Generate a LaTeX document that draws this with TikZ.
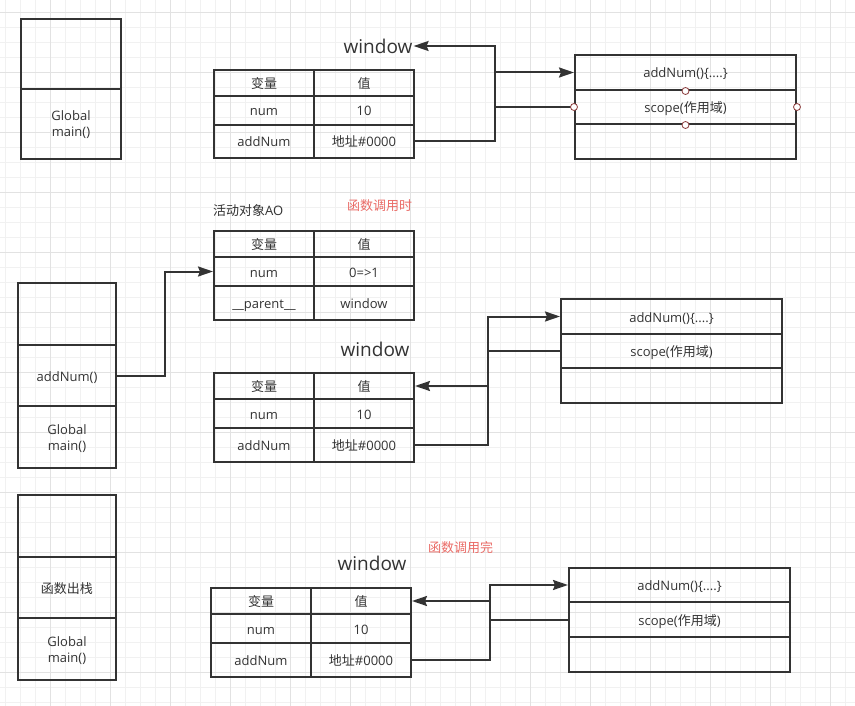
\documentclass[tikz,border=0pt]{standalone}
\usepackage{fontspec}
\setmainfont{Open Sans}
\newfontfamily\cjk{Noto Sans CJK SC}
\usetikzlibrary{arrows.meta}
\definecolor{lc}{RGB}{51,51,51}
\definecolor{tc}{RGB}{51,51,51}
\definecolor{redt}{RGB}{234,107,102}
\definecolor{gminor}{RGB}{241,241,241}
\definecolor{gmajor}{RGB}{226,226,226}
\definecolor{ptc}{RGB}{140,60,60}
\tikzset{
  cell/.style={draw=lc, line width=2pt, inner sep=0pt, text=tc,
    text height=12pt, text depth=1pt,
    font=\fontsize{13}{16}\selectfont},
  cell2/.style={draw=lc, line width=2pt, inner sep=0pt, text=tc, align=center,
    text height=28pt, text depth=2pt,
    font=\fontsize{13}{16}\selectfont},
  wlabel/.style={inner sep=1pt, text=tc, font=\fontsize{19}{22}\selectfont},
  note/.style={inner sep=0pt, anchor=west, font=\fontsize{13}{16}\selectfont},
  conn/.style={draw=lc, line width=2pt},
  arr/.style={conn, -{Stealth[length=15pt,width=10pt,inset=2pt]}},
  pt/.style={circle, draw=ptc, fill=white, line width=0.8pt, minimum size=7pt, inner sep=0pt}
}
\begin{document}
\begin{tikzpicture}[x=1pt,y=-1pt]
\useasboundingbox (0,0) rectangle (855,706);
\fill[white] (0,0) rectangle (855,706);
% grid
\foreach \gx in {5,20,...,855} {\draw[gminor, line width=0.8pt] (\gx,0) -- (\gx,706);}
\foreach \gy in {12,27,...,706} {\draw[gminor, line width=0.8pt] (0,\gy) -- (855,\gy);}
\foreach \gx in {50,110,...,855} {\draw[gmajor, line width=0.8pt] (\gx,0) -- (\gx,706);}
\foreach \gy in {12,72,...,706} {\draw[gmajor, line width=0.8pt] (0,\gy) -- (855,\gy);}

% ===== top section =====
\node[cell, minimum width=100pt, minimum height=70pt] (s1a) at (71,54) {};
\node[cell2, minimum width=100pt, minimum height=70pt] (s1b) at (71,124) {Global\\main()};

\node[wlabel] (win1) at (378,46) {window};
\node[cell, minimum width=100pt, minimum height=26pt] (t1c11) at (264,83) {{\cjk 变量}};
\node[cell, minimum width=100pt, minimum height=26pt] (t1c12) at (364,83) {{\cjk 值}};
\node[cell, minimum width=100pt, minimum height=29pt] (t1c21) at (264,110.5) {num};
\node[cell, minimum width=100pt, minimum height=29pt] (t1c22) at (364,110.5) {10};
\node[cell, minimum width=100pt, minimum height=33pt] (t1c31) at (264,141.5) {addNum};
\node[cell, minimum width=100pt, minimum height=33pt] (t1c32) at (364,141.5) {{\cjk 地址}\#0000};

\node[cell, minimum width=221pt, minimum height=35pt] (r1a) at (685.5,72.5) {addNum()\{....\}};
\node[cell, minimum width=221pt, minimum height=34pt] (r1b) at (685.5,107) {scope({\cjk 作用域})};
\node[cell, minimum width=221pt, minimum height=35pt] (r1c) at (685.5,141.5) {};

\coordinate (k1) at (495,0);
\draw[arr] (t1c32.east) -| (win1.east -| k1) -- (win1.east);
\draw[arr] (k1 |- r1a.west) -- (r1a.west);
\draw[conn] (r1b.west) -- (k1 |- r1b.west);

\node[pt] (p1) at (r1a.south) {};
\node[pt] (p2) at (r1b.west) {};
\node[pt] (p3) at (r1b.east) {};
\node[pt] (p4) at (r1b.south) {};

% ===== middle section =====
\node[note, text=tc] (aol) at (213,211) {{\cjk 活动对象}AO};
\node[note, text=redt] (red1) at (347,206) {\cjk 函数调用时};

\node[cell, minimum width=100pt, minimum height=26pt] (ao11) at (264,244) {{\cjk 变量}};
\node[cell, minimum width=100pt, minimum height=26pt] (ao12) at (364,244) {{\cjk 值}};
\node[cell, minimum width=100pt, minimum height=29pt] (ao21) at (264,271.5) {num};
\node[cell, minimum width=100pt, minimum height=29pt] (ao22) at (364,271.5) {0=>1};
\node[cell, minimum width=100pt, minimum height=34pt] (ao31) at (264,303) {\_\_parent\_\_};
\node[cell, minimum width=100pt, minimum height=34pt] (ao32) at (364,303) {window};

\node[cell, minimum width=98pt, minimum height=62pt] (s2a) at (67,314) {};
\node[cell, minimum width=98pt, minimum height=61pt] (s2b) at (67,375.5) {addNum()};
\node[cell2, minimum width=98pt, minimum height=62pt] (s2c) at (67,437) {Global\\main()};

\coordinate (k4) at (165,0);
\draw[arr] (s2b.east) -| (k4 |- ao21.west) -- (ao21.west);

\node[wlabel] (win2) at (375,349) {window};
\node[cell, minimum width=100pt, minimum height=26pt] (w2c11) at (264,386) {{\cjk 变量}};
\node[cell, minimum width=100pt, minimum height=26pt] (w2c12) at (364,386) {{\cjk 值}};
\node[cell, minimum width=100pt, minimum height=29pt] (w2c21) at (264,413.5) {num};
\node[cell, minimum width=100pt, minimum height=29pt] (w2c22) at (364,413.5) {10};
\node[cell, minimum width=100pt, minimum height=34pt] (w2c31) at (264,445) {addNum};
\node[cell, minimum width=100pt, minimum height=34pt] (w2c32) at (364,445) {{\cjk 地址}\#0000};

\node[cell, minimum width=221pt, minimum height=35pt] (r2a) at (671.5,316.5) {addNum()\{....\}};
\node[cell, minimum width=221pt, minimum height=34pt] (r2b) at (671.5,351) {scope({\cjk 作用域})};
\node[cell, minimum width=221pt, minimum height=35pt] (r2c) at (671.5,385.5) {};

\coordinate (k2) at (488,0);
\draw[arr] (w2c32.east) -| (k2 |- r2a.west) -- (r2a.west);
\draw[conn] (r2b.west) -- (k2 |- r2b.west);
\draw[arr] (k2 |- w2c12.east) -- (w2c12.east);

% ===== bottom section =====
\node[cell, minimum width=98pt, minimum height=62pt] (s3a) at (67,526) {};
\node[cell, minimum width=98pt, minimum height=61pt] (s3b) at (67,587.5) {{\cjk 函数出栈}};
\node[cell2, minimum width=98pt, minimum height=62pt] (s3c) at (67,649) {Global\\main()};

\node[note, text=redt] (red2) at (428,548) {\cjk 函数调用完};
\node[wlabel] (win3) at (372,563) {window};
\node[cell, minimum width=100pt, minimum height=26pt] (w3c11) at (261,601) {{\cjk 变量}};
\node[cell, minimum width=100pt, minimum height=26pt] (w3c12) at (361,601) {{\cjk 值}};
\node[cell, minimum width=100pt, minimum height=29pt] (w3c21) at (261,628.5) {num};
\node[cell, minimum width=100pt, minimum height=29pt] (w3c22) at (361,628.5) {10};
\node[cell, minimum width=100pt, minimum height=34pt] (w3c31) at (261,660) {addNum};
\node[cell, minimum width=100pt, minimum height=34pt] (w3c32) at (361,660) {{\cjk 地址}\#0000};

\node[cell, minimum width=221pt, minimum height=34pt] (r3a) at (679.5,585) {addNum()\{....\}};
\node[cell, minimum width=221pt, minimum height=35pt] (r3b) at (679.5,619.5) {scope({\cjk 作用域})};
\node[cell, minimum width=221pt, minimum height=35pt] (r3c) at (679.5,654.5) {};

\coordinate (k3) at (490,0);
\draw[arr] (w3c32.east) -| (k3 |- r3a.west) -- (r3a.west);
\draw[conn] (r3b.west) -- (k3 |- r3b.west);
\draw[arr] (k3 |- w3c12.east) -- (w3c12.east);
\end{tikzpicture}
\end{document}
